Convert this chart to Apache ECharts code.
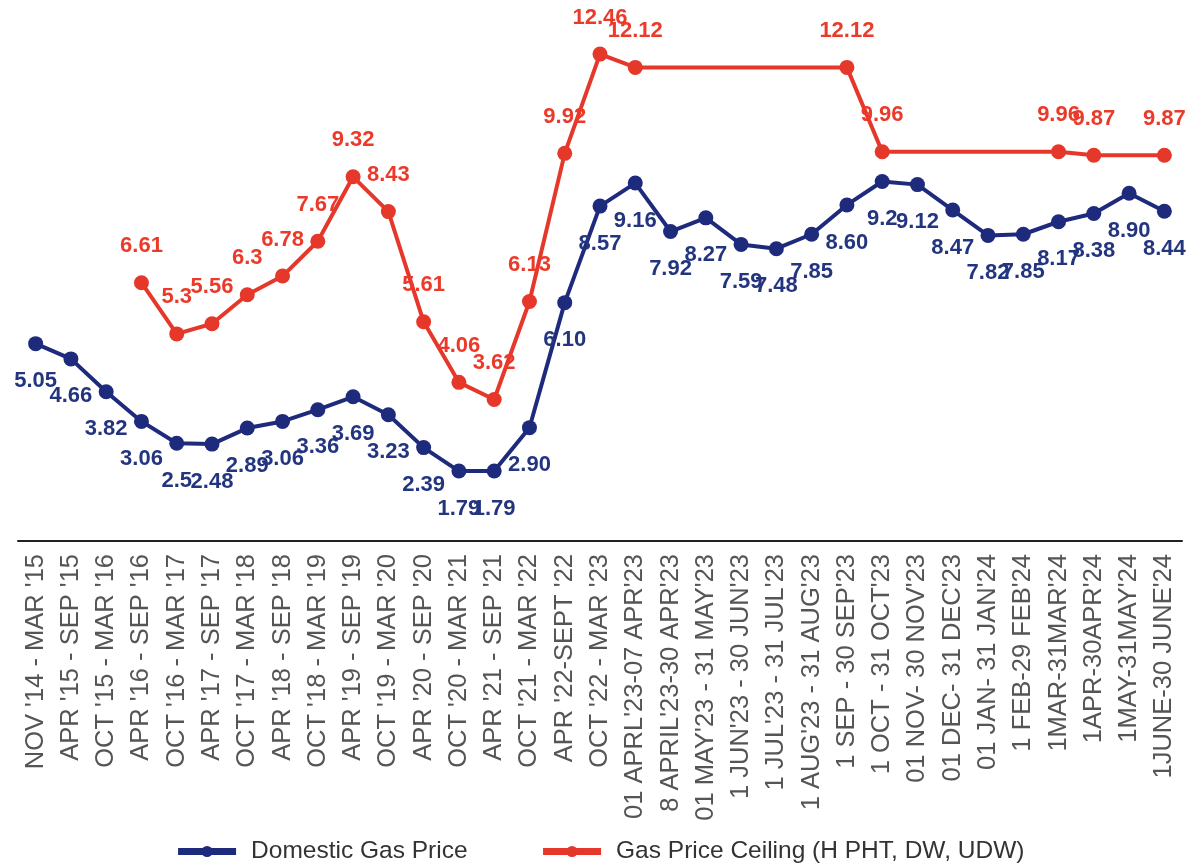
<!DOCTYPE html>
<html><head><meta charset="utf-8">
<script src="https://cdn.jsdelivr.net/npm/echarts@6/dist/echarts.min.js"></script>
<style>html,body{margin:0;padding:0;background:#fff}#c{width:1199px;height:868px}</style>
</head><body><div id="c"></div>
<script>
const categories = ["NOV '14 - MAR '15","APR '15 - SEP '15","OCT '15 - MAR '16","APR '16 - SEP '16","OCT '16 - MAR '17","APR '17 - SEP '17","OCT '17 - MAR '18","APR '18 - SEP '18","OCT '18 - MAR '19","APR '19 - SEP '19","OCT '19 - MAR '20","APR '20 - SEP '20","OCT '20 - MAR '21","APR '21 - SEP '21","OCT '21 - MAR '22","APR '22-SEPT '22","OCT '22 - MAR '23","01 APRL'23-07 APR'23","8 APRIL'23-30 APR'23","01 MAY'23 - 31 MAY'23","1 JUN'23 - 30 JUN'23","1 JUL'23 - 31 JUL'23","1 AUG'23 - 31 AUG'23","1 SEP - 30 SEP'23","1 OCT - 31 OCT'23","01 NOV- 30 NOV'23","01 DEC- 31 DEC'23","01 JAN- 31 JAN'24","1 FEB-29 FEB'24","1MAR-31MAR'24","1APR-30APR'24","1MAY-31MAY'24","1JUNE-30 JUNE'24"];
const domesticLabels = ["5.05","4.66","3.82","3.06","2.5","2.48","2.89","3.06","3.36","3.69","3.23","2.39","1.79","1.79","2.90","6.10","8.57","9.16","7.92","8.27","7.59","7.48","7.85","8.60","9.2","9.12","8.47","7.82","7.85","8.17","8.38","8.90","8.44"];
const domestic = [5.05,4.66,3.82,3.06,2.5,2.48,2.89,3.06,3.36,3.69,3.23,2.39,1.79,1.79,2.90,6.10,8.57,9.16,7.92,8.27,7.59,7.48,7.85,8.60,9.2,9.12,8.47,7.82,7.85,8.17,8.38,8.90,8.44];
const ceiling = [null,null,null,6.61,5.3,5.56,6.3,6.78,7.67,9.32,8.43,5.61,4.06,3.62,6.13,9.92,12.46,12.12,null,null,null,null,null,12.12,9.96,null,null,null,null,9.96,9.87,null,9.87];
const legendNames = ["Domestic Gas Price","Gas Price Ceiling (H PHT, DW, UDW)"];

const BLUE = '#1e2a7c', RED = '#e5382b';
const FONT = 'Liberation Sans, Arial';
const chart = echarts.init(document.getElementById('c'));
chart.setOption({
  animation:false,
  grid:{left:18,right:17,top:33,bottom:327,containLabel:false},
  legend:{bottom:-1,left:'center',itemWidth:58,itemHeight:14,itemGap:72,
    lineStyle:{width:7},
    textStyle:{fontFamily:FONT,fontSize:24.5,color:'#333',padding:[0,0,0,10]},
    data:legendNames},
  xAxis:{type:'category',data:categories,boundaryGap:true,
    axisLine:{lineStyle:{color:'#222',width:2}},axisTick:{show:false},
    axisLabel:{rotate:90,interval:0,margin:13,fontFamily:FONT,fontSize:25.5,color:'#555'}},
  yAxis:{type:'value',min:0,max:13,show:false,splitLine:{show:false}},
  series:[
    {name:legendNames[0],type:'line',data:domestic,symbol:'circle',symbolSize:15,
     lineStyle:{color:BLUE,width:4},itemStyle:{color:BLUE},
     label:{show:true,position:'bottom',distance:19,fontFamily:FONT,fontWeight:'bold',fontSize:22,color:'#243580',
       formatter:p=>domesticLabels[p.dataIndex]}},
    {name:legendNames[1],type:'line',data:ceiling,connectNulls:true,symbol:'circle',symbolSize:15,
     lineStyle:{color:RED,width:4},itemStyle:{color:RED},
     label:{show:true,position:'top',distance:18,fontFamily:FONT,fontWeight:'bold',fontSize:22,color:'#ec3a2a',
       formatter:p=>String(p.value)}}
  ]
});
</script></body></html>
